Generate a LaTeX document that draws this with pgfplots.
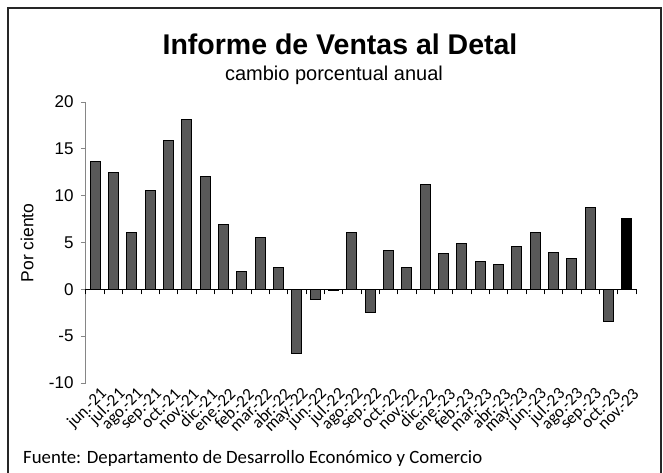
\documentclass[border=0pt]{standalone}
\usepackage{pgfplots}
\pgfplotsset{compat=1.18}
\usepackage{pgfplotstable}
\usepackage{fontspec}
\setmainfont{Liberation Sans}
\newfontfamily\calibri{Carlito}
\definecolor{barg}{RGB}{89,89,89}
\definecolor{axg}{RGB}{134,134,134}

\pgfplotstableread{
x y
0 13.7
1 12.5
2 6.1
3 10.6
4 15.9
5 18.1
6 12.0
7 6.9
8 1.9
9 5.5
10 2.3
11 -6.8
12 -1.1
13 -0.15
14 6.1
15 -2.5
16 4.1
17 2.3
18 11.2
19 3.8
20 4.85
21 3.0
22 2.65
23 4.6
24 6.1
25 3.9
26 3.3
27 8.75
28 -3.45
}\grisdata

\pgfplotstableread{
x y
29 7.55
}\negrodata

\begin{document}
\begin{tikzpicture}[x=1pt,y=1pt]
\path[use as bounding box] (-86,-89) rectangle (577,383);
\draw[line width=1.5pt, black!85] (-78,375) rectangle (575,-100);
\node[anchor=base, font=\bfseries\fontsize{28.5}{30}\selectfont] at (254,328) {Informe de Ventas al Detal};
\node[anchor=base, font=\fontsize{20}{22}\selectfont] at (248,302) {cambio porcentual anual};
\node[rotate=90, font=\fontsize{17.5}{18}\selectfont] at (-59,140) {Por ciento};
\node[anchor=base west, inner sep=0pt, font=\calibri\fontsize{18.8}{19}\selectfont] at (-63,-80) {Fuente: Departamento de Desarrollo Económico y Comercio};

\begin{axis}[
  at={(0,0)}, anchor=south west,
  scale only axis, width=550pt, height=281pt,
  xmin=-0.5, xmax=29.5, ymin=-10, ymax=20,
  axis x line*=bottom, axis y line*=left,
  x axis line style={draw=none},
  y axis line style={axg, line width=1pt, -},
  xtick={0,...,29},
  xticklabels={jun.-21,jul.-21,ago.-21,sep.-21,oct.-21,nov.-21,dic.-21,ene.-22,feb.-22,mar.-22,abr.-22,may.-22,jun.-22,jul.-22,ago.-22,sep.-22,oct.-22,nov.-22,dic.-22,ene.-23,feb.-23,mar.-23,abr.-23,may.-23,jun.-23,jul.-23,ago.-23,sep.-23,oct.-23,nov.-23},
  xtick style={draw=none},
  ytick={-10,-5,...,20},
  ytick style={axg, line width=0.8pt},
  tick align=outside, major tick length=5pt,
  yticklabel style={font=\fontsize{17}{17}\selectfont, xshift=-4pt},
  xticklabel style={font=\calibri\fontsize{17}{17}\selectfont, rotate=45, anchor=east, inner sep=0pt, xshift=4pt, yshift=-9pt},
  /pgf/number format/assume math mode=true,
  clip=false,
]
\addplot[ybar, bar width=0.55, fill=barg, draw=black, line width=1pt] table[x=x,y=y]{\grisdata};
\addplot[ybar, bar width=0.55, fill=black, draw=black, line width=1pt] table[x=x,y=y]{\negrodata};
\end{axis}

\begin{axis}[
  at={(0,0)}, anchor=south west,
  scale only axis, width=550pt, height=281pt,
  xmin=-0.5, xmax=29.5, ymin=-10, ymax=20,
  axis x line=middle, axis y line=none,
  x axis line style={-, black, line width=1.3pt},
  xtick={-0.5,0.5,...,29.5}, xticklabels={},
  xtick style={black, line width=1pt},
  ytick=\empty,
  tick align=outside, major tick length=5pt,
]
\end{axis}
\end{tikzpicture}
\end{document}
